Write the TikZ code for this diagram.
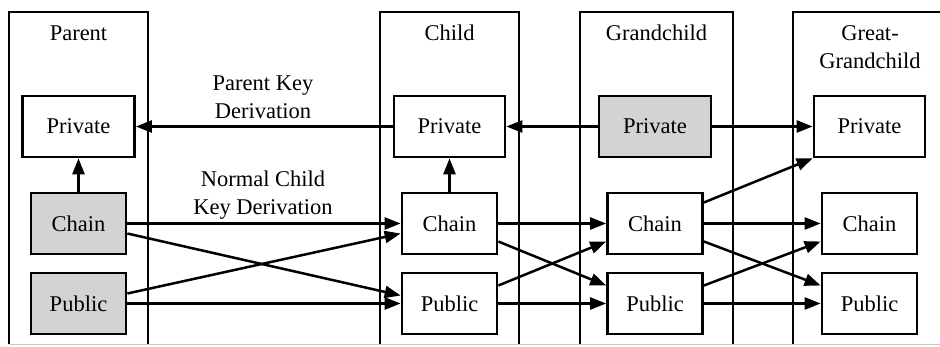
\documentclass[tikz,border=0pt]{standalone}
\usepackage{fontspec}
\setmainfont{Liberation Serif}
\usetikzlibrary{arrows.meta,calc}
\definecolor{boxgray}{HTML}{D3D3D3}
\definecolor{edgegray}{HTML}{C8C8C8}
\begin{document}
\begin{tikzpicture}[x=1pt,y=-1pt,
  font=\fontsize{22.5}{28}\selectfont,
  frame/.style={line width=2.4pt},
  key/.style={draw,line width=2.7pt,minimum height=61pt,inner sep=0pt},
  priv/.style={key,minimum width=112pt},
  cp/.style={key,minimum width=95pt},
  shaded/.style={fill=boxgray},
  arr/.style={line width=2.5pt,-{Triangle[length=16pt,width=12pt]}},
  lbl/.style={align=center,inner sep=0pt}]
\useasboundingbox (0,0) rectangle (940,346);
% column frames
\draw[frame] (9,344) -- (9,12) -- (148,12) -- (148,344);
\draw[frame] (380,344) -- (380,12) -- (519,12) -- (519,344);
\draw[frame] (580,344) -- (580,12) -- (733,12) -- (733,344);
\draw[frame] (793,344) -- (793,12) -- (941,12);
\draw[edgegray,line width=0.8pt] (9,344.5) -- (940,344.5);
% column titles
\node[lbl] (tparent) at (78.5,33) {Parent};
\node[lbl] (tchild) at (449.5,33) {Child};
\node[lbl] (tgrand) at (656.5,33) {Grandchild};
\node[lbl] (tgreat) at (870,47) {Great-\\Grandchild};
% key nodes
\node[priv] (ppriv) at (78.5,126.5) {Private};
\node[cp,shaded] (pchain) at (78.5,223.5) {Chain};
\node[cp,shaded] (ppub) at (78.5,303.5) {Public};
\node[priv,minimum width=111pt] (cpriv) at (449.5,126.5) {Private};
\node[cp] (cchain) at (449.5,223.5) {Chain};
\node[cp] (cpub) at (449.5,303.5) {Public};
\node[priv,shaded] (gpriv) at (655,126.5) {Private};
\node[cp] (gchain) at (655,223.5) {Chain};
\node[cp] (gpub) at (655,303.5) {Public};
\node[priv,minimum width=111pt] (xpriv) at (869.5,126.5) {Private};
\node[cp] (xchain) at (869.5,223.5) {Chain};
\node[cp] (xpub) at (869.5,303.5) {Public};
% edge labels
\node[lbl] (lparent) at (263,97) {Parent Key\\Derivation};
\node[lbl] (lnormal) at (263,195) {Normal Child\\Key Derivation};
% edges
\draw[arr] (pchain) -- (ppriv);
\draw[arr] (cchain) -- (cpriv);
\draw[arr] (cpriv) -- (ppriv);
\draw[arr] (gpriv) -- (cpriv);
\draw[arr] (gpriv) -- (xpriv);
\draw[arr] (pchain) -- (cchain);
\draw[arr] (ppub) -- (cpub);
\draw[arr] ([yshift=-10pt]pchain.east) -- ([yshift=8pt]cpub.west);
\draw[arr] ([yshift=10pt]ppub.east) -- ([yshift=-10pt]cchain.west);
\draw[arr] (cchain) -- (gchain);
\draw[arr] (cpub) -- (gpub);
\draw[arr] ([yshift=-18pt]cchain.east) -- ([yshift=18pt]gpub.west);
\draw[arr] ([yshift=18pt]cpub.east) -- ([yshift=-18pt]gchain.west);
\draw[arr] (gchain) -- (xchain);
\draw[arr] (gpub) -- (xpub);
\draw[arr] ([yshift=-18pt]gchain.east) -- ([yshift=18pt]xpub.west);
\draw[arr] ([yshift=18pt]gpub.east) -- ([yshift=-18pt]xchain.west);
\draw[arr] ([yshift=21pt]gchain.east) -- (xpriv.south west);
\end{tikzpicture}
\end{document}
